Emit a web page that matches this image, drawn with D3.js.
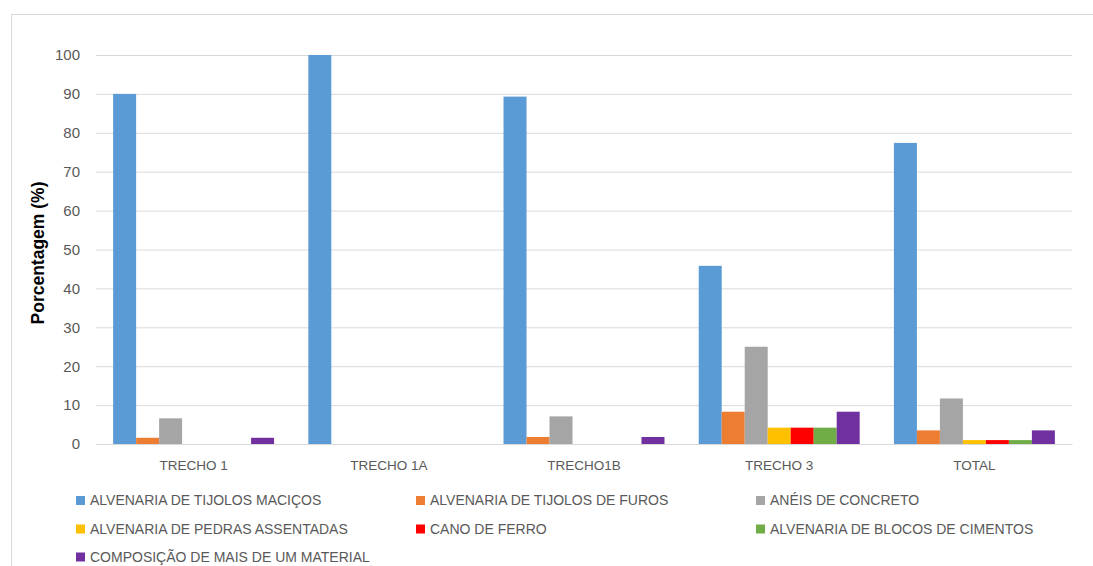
<!DOCTYPE html>
<html>
<head>
<meta charset="utf-8">
<script src="https://cdn.jsdelivr.net/npm/d3@7"></script>
<style>
  html, body { margin: 0; padding: 0; background: #fff; }
  svg { display: block; }
  text { font-family: "Liberation Sans", Arial, sans-serif; }
</style>
</head>
<body>
<svg id="chart" width="1093" height="566"></svg>
<script>
// Trechos (sections) and the share of each well-lining material, in %
const categories = ["TRECHO 1", "TRECHO 1A", "TRECHO1B", "TRECHO 3", "TOTAL"];
const seriesNames = [
  "ALVENARIA DE TIJOLOS MACIÇOS",
  "ALVENARIA DE TIJOLOS DE FUROS",
  "ANÉIS DE CONCRETO",
  "ALVENARIA DE PEDRAS ASSENTADAS",
  "CANO DE FERRO",
  "ALVENARIA DE BLOCOS DE CIMENTOS",
  "COMPOSIÇÃO DE MAIS DE UM MATERIAL"
];
const tijolosMacicos   = [90.0, 100, 89.3, 45.8, 77.4];
const tijolosFuros     = [1.6, 0, 1.8, 8.3, 3.5];
const aneisConcreto    = [6.6, 0, 7.1, 25.0, 11.7];
const pedrasAssentadas = [0, 0, 0, 4.2, 1.0];
const canoFerro        = [0, 0, 0, 4.2, 1.0];
const blocosCimento    = [0, 0, 0, 4.2, 1.0];
const composicao       = [1.6, 0, 1.8, 8.3, 3.5];
const yTicks = [0, 10, 20, 30, 40, 50, 60, 70, 80, 90, 100];

const seriesValues = [tijolosMacicos, tijolosFuros, aneisConcreto,
  pedrasAssentadas, canoFerro, blocosCimento, composicao];
const colors = ["#5B9BD5", "#ED7D31", "#A5A5A5", "#FFC000", "#FF0000", "#70AD47", "#7030A0"];

const svg = d3.select("#chart");

// chart frame (open to the right and bottom)
svg.append("path")
  .attr("d", "M11.5,566 V14.5 H1093")
  .attr("fill", "none")
  .attr("stroke", "#D9D9D9")
  .attr("stroke-width", 1);

const plot = { left: 96, right: 1072, top: 55, bottom: 444 };

const x0 = d3.scaleBand().domain(categories)
  .range([plot.left, plot.right]).paddingInner(0).paddingOuter(0);
const x1 = d3.scaleBand().domain(d3.range(seriesNames.length))
  .range([0, x0.bandwidth()]).paddingOuter(0.745).paddingInner(0);
const y = d3.scaleLinear().domain([0, 100]).range([plot.bottom, plot.top]);

// horizontal gridlines
const yAxis = d3.axisLeft(y).tickValues(yTicks)
  .tickSize(-(plot.right - plot.left)).tickPadding(16).tickFormat(d3.format("d"));
const gy = svg.append("g").attr("transform", `translate(${plot.left},0)`).call(yAxis);
gy.select(".domain").remove();
gy.selectAll(".tick line").attr("stroke", "#D9D9D9").attr("stroke-width", 1);
gy.selectAll(".tick text").attr("fill", "#595959").attr("font-size", 15);

// bars
const groups = svg.append("g").selectAll("g")
  .data(categories)
  .join("g")
  .attr("transform", d => `translate(${x0(d)},0)`);

groups.selectAll("rect")
  .data((c, ci) => seriesValues.map((vals, si) => ({ si, v: vals[ci] })))
  .join("rect")
  .attr("x", d => x1(d.si))
  .attr("width", x1.bandwidth())
  .attr("y", d => y(d.v))
  .attr("height", d => y(0) - y(d.v))
  .attr("fill", d => colors[d.si]);

// category axis
const xAxis = d3.axisBottom(x0).tickSize(0).tickPadding(16);
const gx = svg.append("g").attr("transform", `translate(0,${plot.bottom})`).call(xAxis);
gx.select(".domain").attr("stroke", "#D9D9D9");
gx.selectAll(".tick text").attr("fill", "#595959").attr("font-size", 13.5);

// y axis title
svg.append("text")
  .attr("transform", "translate(44,253) rotate(-90)")
  .attr("text-anchor", "middle")
  .attr("font-weight", "bold")
  .attr("font-size", 17.5)
  .attr("fill", "#000")
  .text("Porcentagem (%)");

// legend: three columns, filled row by row
const legendCols = [76, 416, 756];
const legendRows = [500.5, 529, 557];
const legend = svg.append("g").selectAll("g")
  .data(seriesNames)
  .join("g")
  .attr("transform", (d, i) => `translate(${legendCols[i % 3]},${legendRows[Math.floor(i / 3)]})`);
legend.append("rect")
  .attr("x", 0).attr("y", -4.5).attr("width", 9).attr("height", 9)
  .attr("fill", (d, i) => colors[i]);
legend.append("text")
  .attr("x", 14).attr("y", 0).attr("dy", "0.35em")
  .attr("fill", "#595959").attr("font-size", 14)
  .text(d => d);
</script>
</body>
</html>
